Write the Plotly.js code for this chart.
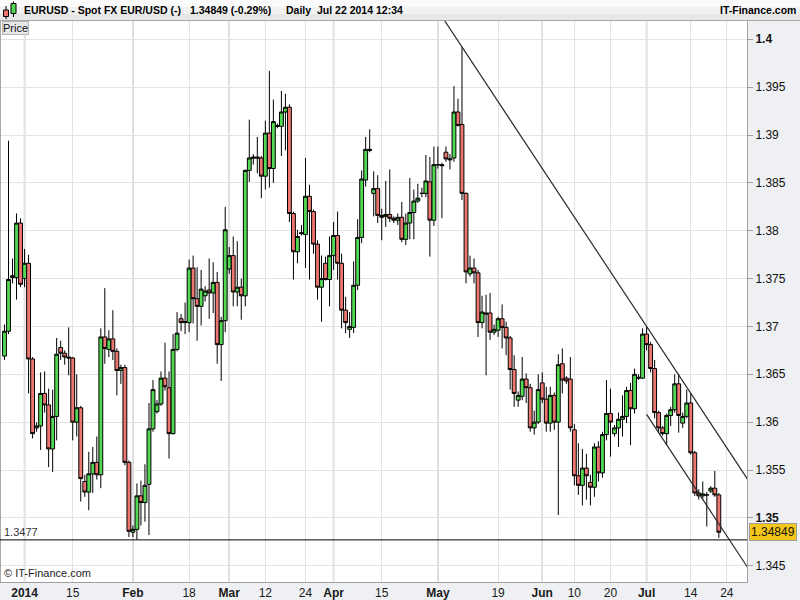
<!DOCTYPE html>
<html><head><meta charset="utf-8">
<script src="https://cdn.plot.ly/plotly-3.0.1.min.js"></script>
<style>html,body{margin:0;padding:0;background:#fff}#chart{width:800px;height:600px}</style>
</head><body><div id="chart"></div>
<script>
// ---- Daily EUR/USD candles (Sunday sessions included), Dec 26 2013 .. Jul 22 2014 ----
const openP = [1.3669,1.3695,1.3753,1.3751,1.3808,1.3750,1.3766,1.3666,1.3594,1.3596,
1.3630,1.3618,1.3572,1.3606,1.3678,1.3672,1.3668,1.3667,1.3600,1.3615,
1.3538,1.3527,1.3546,1.3558,1.3545,1.3689,1.3676,1.3687,1.3674,1.3654,
1.3657,1.3558,1.3485,1.3488,1.3523,1.3516,1.3535,1.3593,1.3611,1.3619,
1.3646,1.3636,1.3588,1.3676,1.3708,1.3704,1.3704,1.3761,1.3729,1.3721,
1.3732,1.3738,1.3735,1.3746,1.3681,1.3706,1.3760,1.3774,1.3736,1.3741,
1.3732,1.3863,1.3877,1.3877,1.3876,1.3857,1.3902,1.3865,1.3910,1.3909,
1.3924,1.3929,1.3818,1.3778,1.3798,1.3796,1.3836,1.3820,1.3786,1.3741,
1.3766,1.3749,1.3774,1.3795,1.3766,1.3717,1.3697,1.3699,1.3743,1.3793,
1.3853,1.3885,1.3839,1.3844,1.3816,1.3815,1.3817,1.3813,1.3811,1.3814,
1.3791,1.3808,1.3819,1.3831,1.3839,1.3839,1.3851,1.3811,1.3869,1.3869,
1.3882,1.3874,1.3876,1.3924,1.3911,1.3839,1.3755,1.3761,1.3756,1.3704,
1.3714,1.3714,1.3694,1.3696,1.3708,1.3699,1.3688,1.3655,1.3623,1.3627,
1.3645,1.3636,1.3594,1.3600,1.3641,1.3624,1.3599,1.3628,1.3600,1.3661,
1.3646,1.3645,1.3592,1.3544,1.3534,1.3552,1.3537,1.3532,1.3574,1.3547,
1.3587,1.3609,1.3588,1.3594,1.3603,1.3606,1.3633,1.3614,1.3647,1.3646,
1.3692,1.3681,1.3656,1.3610,1.3594,1.3588,1.3607,1.3613,1.3640,1.3599,
1.3606,1.3620,1.3568,1.3526,1.3523,1.3524,1.3528,1.3531,1.3524];
const highP = [1.3702,1.3894,1.3771,1.3818,1.3813,1.3781,1.3775,1.3668,1.3600,1.3652,
1.3653,1.3635,1.3634,1.3688,1.3685,1.3675,1.3699,1.3668,1.3650,1.3617,
1.3545,1.3569,1.3574,1.3585,1.3698,1.3740,1.3696,1.3717,1.3677,1.3660,
1.3660,1.3560,1.3492,1.3536,1.3539,1.3556,1.3620,1.3644,1.3623,1.3653,
1.3683,1.3653,1.3692,1.3715,1.3713,1.3725,1.3770,1.3774,1.3762,1.3759,
1.3742,1.3771,1.3767,1.3757,1.3710,1.3825,1.3783,1.3794,1.3789,1.3750,
1.3864,1.3916,1.3880,1.3898,1.3878,1.3915,1.3967,1.3937,1.3912,1.3946,
1.3943,1.3932,1.3820,1.3801,1.3806,1.3876,1.3848,1.3822,1.3790,1.3774,
1.3773,1.3794,1.3809,1.3820,1.3776,1.3731,1.3715,1.3768,1.3812,1.3863,
1.3898,1.3906,1.3862,1.3858,1.3823,1.3852,1.3864,1.3815,1.3818,1.3830,
1.3818,1.3855,1.3843,1.3849,1.3845,1.3879,1.3877,1.3888,1.3888,1.3871,
1.3888,1.3880,1.3951,1.3938,1.3992,1.3840,1.3774,1.3771,1.3759,1.3732,
1.3733,1.3735,1.3702,1.3710,1.3723,1.3705,1.3690,1.3670,1.3632,1.3668,
1.3651,1.3640,1.3612,1.3650,1.3652,1.3637,1.3637,1.3631,1.3671,1.3677,
1.3648,1.3668,1.3598,1.3578,1.3572,1.3567,1.3545,1.3578,1.3580,1.3590,
1.3644,1.3635,1.3597,1.3610,1.3628,1.3637,1.3641,1.3656,1.3650,1.3698,
1.3700,1.3684,1.3665,1.3612,1.3596,1.3609,1.3616,1.3650,1.3650,1.3610,
1.3634,1.3630,1.3570,1.3530,1.3538,1.3527,1.3533,1.3549,1.3526];
const lowP = [1.3665,1.3692,1.3745,1.3728,1.3741,1.3741,1.3630,1.3583,1.3590,1.3571,
1.3610,1.3553,1.3548,1.3581,1.3665,1.3660,1.3649,1.3581,1.3585,1.3517,
1.3522,1.3508,1.3526,1.3540,1.3531,1.3661,1.3668,1.3665,1.3628,1.3640,
1.3555,1.3480,1.3480,1.3477,1.3492,1.3496,1.3482,1.3590,1.3609,1.3617,
1.3633,1.3562,1.3587,1.3674,1.3695,1.3692,1.3694,1.3703,1.3685,1.3701,
1.3726,1.3708,1.3714,1.3661,1.3643,1.3694,1.3755,1.3721,1.3721,1.3707,
1.3721,1.3851,1.3869,1.3860,1.3834,1.3843,1.3845,1.3850,1.3907,1.3878,
1.3884,1.3809,1.3749,1.3766,1.3795,1.3761,1.3749,1.3776,1.3728,1.3705,
1.3748,1.3721,1.3759,1.3749,1.3698,1.3693,1.3688,1.3693,1.3738,1.3787,
1.3846,1.3882,1.3815,1.3808,1.3790,1.3804,1.3809,1.3808,1.3806,1.3788,
1.3785,1.3791,1.3791,1.3829,1.3835,1.3835,1.3773,1.3805,1.3865,1.3813,
1.3872,1.3864,1.3872,1.3909,1.3832,1.3745,1.3752,1.3745,1.3689,1.3698,
1.3649,1.3686,1.3691,1.3689,1.3677,1.3670,1.3634,1.3616,1.3616,1.3623,
1.3620,1.3590,1.3587,1.3598,1.3620,1.3590,1.3590,1.3592,1.3503,1.3630,
1.3640,1.3590,1.3534,1.3524,1.3513,1.3519,1.3513,1.3522,1.3538,1.3542,
1.3581,1.3564,1.3585,1.3574,1.3585,1.3599,1.3576,1.3609,1.3644,1.3645,
1.3675,1.3652,1.3604,1.3589,1.3586,1.3576,1.3596,1.3610,1.3589,1.3594,
1.3604,1.3566,1.3523,1.3519,1.3519,1.3491,1.3526,1.3522,1.3479];
const closeP = [1.3695,1.3749,1.3751,1.3808,1.3744,1.3766,1.3666,1.3588,1.3596,1.3630,
1.3618,1.3572,1.3606,1.3671,1.3672,1.3668,1.3667,1.3600,1.3615,1.3541,
1.3527,1.3546,1.3558,1.3545,1.3689,1.3677,1.3687,1.3674,1.3654,1.3657,
1.3558,1.3486,1.3488,1.3523,1.3516,1.3534,1.3593,1.3634,1.3619,1.3646,
1.3637,1.3588,1.3676,1.3693,1.3704,1.3705,1.3761,1.3729,1.3721,1.3739,
1.3737,1.3735,1.3746,1.3681,1.3706,1.3801,1.3774,1.3736,1.3741,1.3732,
1.3863,1.3876,1.3876,1.3876,1.3857,1.3902,1.3865,1.3914,1.3909,1.3924,
1.3929,1.3818,1.3778,1.3794,1.3797,1.3836,1.3820,1.3786,1.3741,1.3750,
1.3749,1.3774,1.3795,1.3766,1.3717,1.3704,1.3700,1.3743,1.3793,1.3854,
1.3885,1.3884,1.3844,1.3816,1.3814,1.3817,1.3813,1.3811,1.3814,1.3791,
1.3808,1.3819,1.3831,1.3834,1.3839,1.3852,1.3811,1.3869,1.3869,1.3868,
1.3875,1.3875,1.3924,1.3910,1.3839,1.3757,1.3761,1.3756,1.3704,1.3715,
1.3713,1.3694,1.3697,1.3708,1.3699,1.3688,1.3655,1.3630,1.3628,1.3645,
1.3636,1.3594,1.3600,1.3634,1.3624,1.3599,1.3628,1.3600,1.3660,1.3644,
1.3643,1.3594,1.3544,1.3534,1.3552,1.3544,1.3532,1.3574,1.3547,1.3587,
1.3609,1.3600,1.3594,1.3603,1.3606,1.3633,1.3614,1.3650,1.3646,1.3692,
1.3681,1.3656,1.3610,1.3594,1.3588,1.3607,1.3613,1.3640,1.3607,1.3606,
1.3620,1.3568,1.3526,1.3523,1.3525,1.3524,1.3531,1.3524,1.3485];

// x tick labels (candle index of each labelled session)
const tickIdx  = [5,17,32,46,56,65,75,82,94,108,123,134,142,151,160,171,180];
const tickText = ['2014','15','Feb','18','Mar','12','24','Apr','15','May','19','Jun','10','20','Jul','14','24'];
const tickIsMonth = [1,0,1,0,1,0,0,1,0,1,0,1,0,0,1,0,0];
// y axis ticks
const yTickVals = [1.345,1.35,1.355,1.36,1.365,1.37,1.375,1.38,1.385,1.39,1.395,1.4];
const yTickText = ['1.345','<b>1.35</b>','1.355','1.36','1.365','1.37','1.375','1.38','1.385','1.39','1.395','<b>1.4</b>'];
// quote header
const lastPrice = 1.34849;
const lastChange = '-0.29%';
const quoteDate = 'Jul 22 2014 12:34';
// trend line anchors (candle indices)
const trendHighAnchors = [114, 160];
const channelLowAnchor = 163;

const idx = openP.map((_, i) => i);
const W = 747, PT = 21, PB = 582, PH = PB - PT;
const px = v => v / W;
const py = v => (PB - v) / PH;
const FONT = 'Arial, "Liberation Sans", sans-serif';
const UP = '#52d852', DN = '#ec7670';

const minLow = Math.min(...lowP);
const xRange = [-1.12, 185.02];
const yRange = [1.3433, 1.40191];

const a = trendHighAnchors[0], b = trendHighAnchors[1];
const slope = (highP[b] - highP[a]) / (b - a);
const tl1 = x => highP[a] + slope * (x - a);
const tl2 = x => lowP[channelLowAnchor] + slope * (x - channelLowAnchor);

const shapes = [];
// title bar
[['#fbfbfb', 0, 7], ['#f2f2f2', 7, 14], ['#e7e7e7', 14, 20.5]].forEach(([c, t, bt]) =>
  shapes.push({type: 'rect', xref: 'paper', yref: 'paper', x0: 0, x1: 800 / W, y0: py(bt), y1: py(t),
    fillcolor: c, line: {width: 0}, layer: 'below'}));
shapes.push({type: 'line', xref: 'paper', yref: 'paper', x0: 0, x1: 800 / W, y0: py(20.5), y1: py(20.5),
  line: {color: '#a8a8a8', width: 1}});
// left border
shapes.push({type: 'line', xref: 'paper', yref: 'paper', x0: px(0.5), x1: px(0.5), y0: 0, y1: 1,
  line: {color: '#a8a8a8', width: 1}});
// month grid lines
tickIdx.forEach((t, k) => { if (tickIsMonth[k]) shapes.push({type: 'line', xref: 'x', yref: 'paper',
  x0: t, x1: t, y0: 0, y1: 1, line: {color: '#c9c9c9', width: 1.6}, layer: 'between'}); });
// support line at the lowest low
shapes.push({type: 'line', xref: 'paper', yref: 'y', x0: 0, x1: 1, y0: minLow, y1: minLow,
  line: {color: '#000', width: 1}});
// trend line and parallel channel line
shapes.push({type: 'line', xref: 'x', yref: 'y', x0: 100, x1: 190, y0: tl1(100), y1: tl1(190),
  line: {color: '#2a2a2a', width: 1.2}});
shapes.push({type: 'line', xref: 'x', yref: 'y', x0: b, x1: 190, y0: tl2(b), y1: tl2(190),
  line: {color: '#2a2a2a', width: 1.2}});
// small icon in the header
shapes.push({type: 'line', xref: 'paper', yref: 'paper', x0: px(6), x1: px(6), y0: py(19), y1: py(6), line: {color: '#000', width: 1}});
shapes.push({type: 'rect', xref: 'paper', yref: 'paper', x0: px(3.5), x1: px(8.5), y0: py(16.5), y1: py(10), fillcolor: DN, line: {color: '#000', width: 1}});
shapes.push({type: 'line', xref: 'paper', yref: 'paper', x0: px(13.5), x1: px(13.5), y0: py(17), y1: py(1.5), line: {color: '#000', width: 1}});
shapes.push({type: 'rect', xref: 'paper', yref: 'paper', x0: px(11), x1: px(16), y0: py(13.5), y1: py(3.5), fillcolor: UP, line: {color: '#000', width: 1}});

const hdr = (text, x, anchor) => ({xref: 'paper', yref: 'paper', x: px(x), y: py(10.5), xanchor: anchor,
  yanchor: 'middle', text: '<b>' + text + '</b>', showarrow: false, borderpad: 0,
  font: {family: FONT, size: 10.5, color: '#000'}});

const annotations = [
  hdr('EURUSD - Spot FX EUR/USD (-)', 23, 'left'),
  hdr(lastPrice.toFixed(5) + ' (' + lastChange + ')', 189, 'left'),
  hdr('Daily', 285, 'left'),
  hdr(quoteDate, 316, 'left'),
  hdr('IT-Finance.com', 797, 'right'),
  {xref: 'paper', yref: 'paper', x: px(2), y: py(21.5), xanchor: 'left', yanchor: 'top', text: 'Price',
    showarrow: false, font: {family: FONT, size: 11, color: '#111'}, bgcolor: '#e6e8ec',
    bordercolor: '#b4b4b4', borderwidth: 1, borderpad: 0},
  {xref: 'paper', yref: 'paper', x: px(2), y: py(581), xanchor: 'left', yanchor: 'bottom',
    text: '© IT-Finance.com', showarrow: false, font: {family: FONT, size: 11, color: '#222'}},
  {xref: 'paper', yref: 'y', x: px(2), y: minLow, xanchor: 'left', yanchor: 'bottom', yshift: 0,
    text: minLow.toFixed(4), showarrow: false, font: {family: FONT, size: 11, color: '#333'}},
  {xref: 'paper', yref: 'y', x: px(748.5), y: lastPrice, xanchor: 'left', yanchor: 'middle',
    text: lastPrice.toFixed(5), showarrow: false, font: {family: FONT, size: 12, color: '#111'},
    bgcolor: '#f6c51a', bordercolor: '#9c9c9c', borderwidth: 1, borderpad: 1}
];

const trace = {
  type: 'candlestick', x: idx, open: openP, high: highP, low: lowP, close: closeP,
  increasing: {fillcolor: UP, line: {color: '#000', width: 1}},
  decreasing: {fillcolor: DN, line: {color: '#000', width: 1}},
  whiskerwidth: 0, hoverinfo: 'skip', showlegend: false
};

const layout = {
  width: 800, height: 600,
  margin: {l: 0, r: 53, t: PT, b: 600 - PB, pad: 0},
  paper_bgcolor: '#eef0f3', plot_bgcolor: '#ffffff',
  showlegend: false, hovermode: false, dragmode: false,
  boxgap: 0.04, boxgroupgap: 0,
  font: {family: FONT, size: 12, color: '#111'},
  xaxis: {type: 'linear', range: xRange, tickmode: 'array', tickvals: tickIdx,
    ticktext: tickText.map((t, k) => tickIsMonth[k] ? '<b>' + t + '</b>' : t),
    showgrid: true, gridcolor: '#e3e3e3', gridwidth: 1, zeroline: false,
    showline: true, linecolor: '#a0a0a0', ticks: '', fixedrange: true,
    tickfont: {family: FONT, size: 12, color: '#1a1a1a'},
    rangeslider: {visible: false}},
  yaxis: {side: 'right', range: yRange, tickmode: 'array', tickvals: yTickVals, ticktext: yTickText,
    showgrid: true, gridcolor: '#e3e3e3', gridwidth: 1, zeroline: false,
    showline: true, linecolor: '#a0a0a0', ticks: 'outside', ticklen: 5, tickcolor: '#a0a0a0',
    fixedrange: true, tickfont: {family: FONT, size: 12, color: '#111'}},
  shapes: shapes, annotations: annotations
};

Plotly.newPlot('chart', [trace], layout, {staticPlot: true, displayModeBar: false});
</script>
</body></html>
